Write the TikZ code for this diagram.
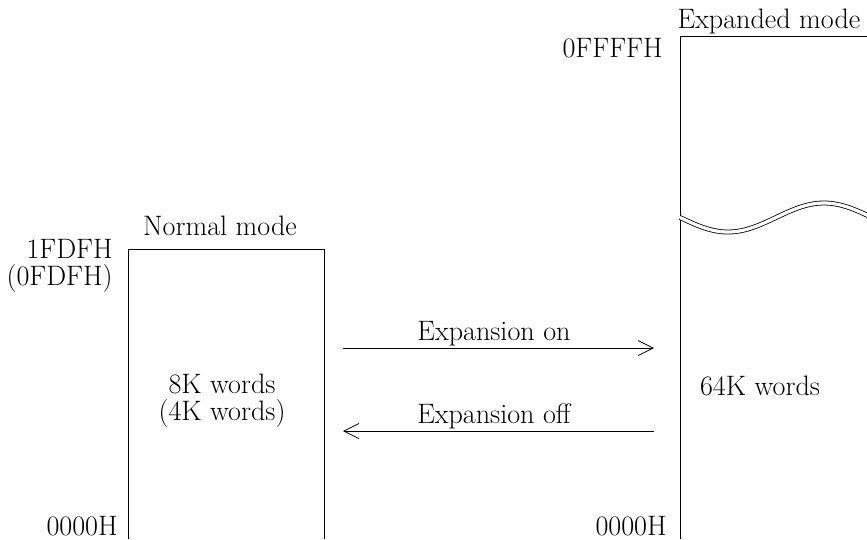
\documentclass[tikz,border=0pt]{standalone}
\usetikzlibrary{arrows.meta}
\begin{document}
\begin{tikzpicture}[x=0.02cm,y=-0.02cm,line width=0.45pt,
  every node/.style={font=\fontsize{16}{19}\selectfont,inner sep=0pt},
  flow/.style={-{Straight Barb[length=0.3cm,width=0.3cm]}}]
  \useasboundingbox (0,0) rectangle (867,539);
  \clip (0,0) rectangle (867,539);
  % normal mode (left block)
  \begin{scope}
    \coordinate (nbl) at (128,539);
    \coordinate (ntl) at (128,249);
    \coordinate (ntr) at (324,249);
    \coordinate (nbr) at (324,539);
    \draw (nbl)--(ntl)--(ntr)--(nbr);
    \node[anchor=base] (ntitle) at (220,235) {Normal mode};
    \node[anchor=base east] (ntop) at (113,258) {1FDFH};
    \node[anchor=base east] (ntopb) at (113,285) {(0FDFH)};
    \node[anchor=base east] (nbot) at (118,535) {0000H};
    \node[anchor=base] (nsize) at (222,393) {8K words};
    \node[anchor=base] (nsizeb) at (222,420) {(4K words)};
  \end{scope}
  % expanded mode (right block, cut by the wave)
  \begin{scope}
    \coordinate (ebl) at (680,539);
    \coordinate (ewl) at (680,219.5);
    \coordinate (ewu) at (680,215.5);
    \coordinate (etl) at (680,36);
    \coordinate (etr) at (900,36);
    \draw (ebl)--(ewl);
    \draw (ewu)--(etl)--(etr);
    \draw[double,double distance=0.065cm]
      plot[domain=680:900,samples=80,smooth] (\x,{217.5+14.5*sin((\x-680)/192*360)});
    \node[anchor=base] (etitle) at (769,28) {Expanded mode};
    \node[anchor=base east] (etop) at (663,57) {0FFFFH};
    \node[anchor=base east] (ebot) at (667,535) {0000H};
    \node[anchor=base] (esize) at (760,395) {64K words};
  \end{scope}
  % switching between the modes
  \coordinate (onL) at (343,348);
  \coordinate (onR) at (654,348);
  \coordinate (offL) at (343,431);
  \coordinate (offR) at (654,431);
  \draw[flow] (onL)--(onR);
  \draw[flow] (offR)--(offL);
  \node[anchor=base] (on) at (494,340) {Expansion on};
  \node[anchor=base] (off) at (494,423) {Expansion off};
\end{tikzpicture}
\end{document}
